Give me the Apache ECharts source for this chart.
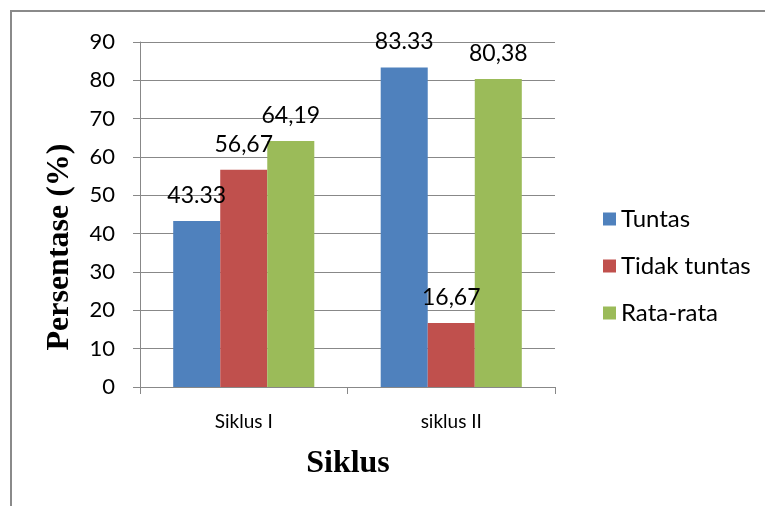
<!DOCTYPE html>
<html>
<head>
<meta charset="utf-8">
<script src="https://cdn.jsdelivr.net/npm/echarts@6/dist/echarts.min.js"></script>
<style>html,body{margin:0;padding:0;background:#fff;}#c{width:765px;height:506px;}</style>
</head>
<body>
<div id="c"></div>
<script>
var categories = ["Siklus I", "siklus II"];
var seriesNames = ["Tuntas", "Tidak tuntas", "Rata-rata"];
var tuntas = [43.33, 83.33];
var tidakTuntas = [56.67, 16.67];
var rataRata = [64.19, 80.38];
var tuntasLabels = ["43.33", "83.33"];
var tidakTuntasLabels = ["56,67", "16,67"];
var rataRataLabels = ["64,19", "80,38"];
var yTicks = [0, 10, 20, 30, 40, 50, 60, 70, 80, 90];
var xTitle = "Siklus";
var yTitle = "Persentase (%)";
var colors = ["#4F81BD", "#C0504D", "#9BBB59"];

var chart = echarts.init(document.getElementById('c'));
function mk(name, data, labels, color) {
  return {
    name: name, type: 'bar', data: data, barGap: 0, barCategoryGap: '32%',
    itemStyle: { color: color },
    label: {
      show: true, position: 'top', distance: 14, color: '#000',
      fontFamily: 'Lato', fontSize: 23,
      formatter: function (p) { return labels[p.dataIndex]; }
    }
  };
}
chart.setOption({
  animation: false,
  graphic: [
    { type: 'rect', shape: { x: 11, y: 11, width: 820, height: 620 },
      style: { fill: 'none', stroke: '#8a8a8a', lineWidth: 2 }, z: -1 },
    { type: 'text', x: 60, y: 247, rotation: Math.PI / 2,
      style: { text: yTitle, fontFamily: 'Liberation Serif', fontWeight: 'bold', fontSize: 32,
               fill: '#000', align: 'center', verticalAlign: 'middle' } },
    { type: 'text', x: 348, y: 464,
      style: { text: xTitle, fontFamily: 'Liberation Serif', fontWeight: 'bold', fontSize: 32,
               fill: '#000', align: 'center', verticalAlign: 'middle' } }
  ],
  legend: {
    orient: 'vertical', left: 598, top: 202, itemWidth: 13, itemHeight: 13, itemGap: 23,
    icon: 'rect', data: seriesNames,
    textStyle: { fontFamily: 'Lato', fontSize: 24, lineHeight: 24, color: '#000' }
  },
  grid: { left: 140, right: 210, top: 42, bottom: 119 },
  xAxis: {
    type: 'category', data: categories,
    axisLine: { lineStyle: { color: '#888' } },
    axisTick: { show: true, length: 7, lineStyle: { color: '#888' } },
    axisLabel: { fontFamily: 'Lato', fontSize: 19, color: '#000', margin: 25 }
  },
  yAxis: {
    type: 'value', min: 0, max: 90, interval: 10,
    axisLine: { show: true, lineStyle: { color: '#888' } },
    axisTick: { show: true, length: 7, lineStyle: { color: '#888' } },
    axisLabel: {
      fontFamily: 'Lato', fontSize: 22, color: '#000', margin: 25,
      formatter: function (v) { return yTicks.indexOf(v) >= 0 ? String(v) : ''; }
    },
    splitLine: { lineStyle: { color: '#888' } }
  },
  series: [
    mk(seriesNames[0], tuntas, tuntasLabels, colors[0]),
    mk(seriesNames[1], tidakTuntas, tidakTuntasLabels, colors[1]),
    mk(seriesNames[2], rataRata, rataRataLabels, colors[2])
  ]
});
</script>
</body>
</html>
